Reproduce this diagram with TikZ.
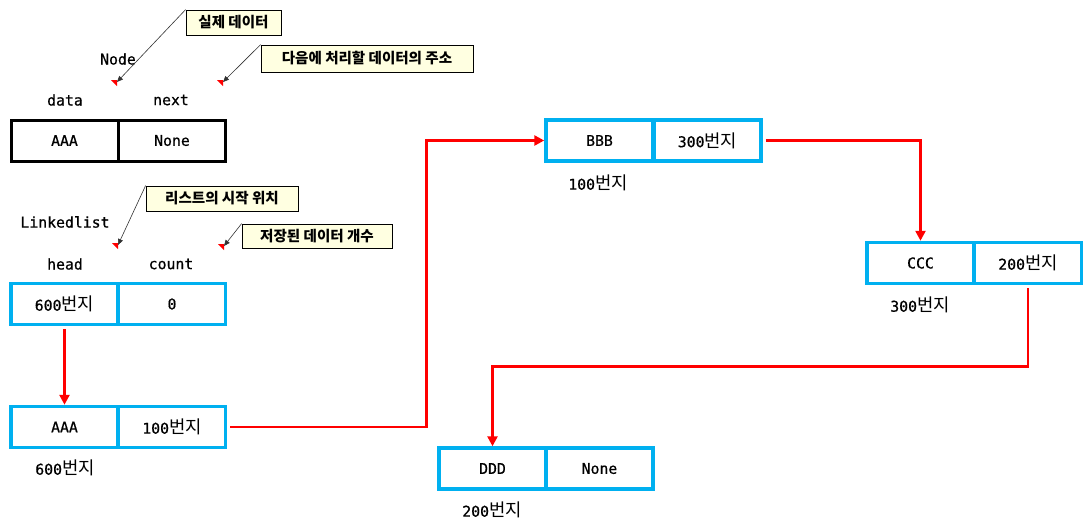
\documentclass[tikz,border=0pt]{standalone}
\usepackage{fontspec}
\setmainfont{DejaVu Sans Mono}[FakeBold=0.6]
\newfontfamily\kr[Scale=1.2]{Noto Sans CJK KR}
\newfontfamily\krn[Scale=1.1]{Noto Sans CJK KR}
\newcommand\kk[1]{{\kr #1}}
\usetikzlibrary{arrows.meta}
\definecolor{cyanb}{HTML}{00B0F0}
\definecolor{notefill}{HTML}{FFFFE1}
\definecolor{redl}{HTML}{FF0000}
\begin{document}
\begin{tikzpicture}[x=1pt,y=-1pt,
  cell/.style={draw=cyanb, line width=3.5pt, rectangle, minimum width=107pt, minimum height=41pt, inner sep=0pt, font=\fontsize{14.8}{17}\selectfont},
  blackcell/.style={cell, draw=black, line width=3pt},
  lbl/.style={inner sep=0pt, font=\fontsize{14.8}{17}\selectfont},
  note/.style={draw=black, line width=0.8pt, fill=notefill, rectangle, inner sep=0pt, font=\krn\bfseries\fontsize{13.2}{15}\selectfont},
  link/.style={draw=redl, line width=2.6pt, -{Triangle[length=10pt,width=10pt]}, shorten <=3pt},
  pointer/.style={draw=black!80, line width=0.6pt, -{Triangle[length=6pt,width=5pt]}},
  marker/.style={fill=redl, draw=none}
]
\useasboundingbox (0,0) rectangle (1092,528);
\fill[white] (0,0) rectangle (1092,528);

% Node structure
\node[blackcell] (n1) at (64.5,140.5) {AAA};
\node[blackcell] (n2) at (172,140.5) {None};
\node[lbl] (ldata) at (65,100) {data};
\node[lbl] (lnext) at (171,100) {next};
\node[lbl] (lnode) at (118,59) {Node};

% Linkedlist structure
\node[cell] (l1) at (64.5,304) {600\kk{번지}};
\node[cell] (l2) at (172,304) {0};
\node[lbl] (lhead) at (65,264) {head};
\node[lbl] (lcount) at (171,264) {count};
\node[lbl] (lll) at (65,222) {Linkedlist};

% Nodes of list
\node[cell] (a1) at (64.5,427) {AAA};
\node[cell] (a2) at (172,427) {100\kk{번지}};
\node[lbl] (aaddr) at (65,468) {600\kk{번지}};

\node[cell] (b1) at (599.5,140.5) {BBB};
\node[cell] (b2) at (707.5,140.5) {300\kk{번지}};
\node[lbl] (baddr) at (598,183) {100\kk{번지}};

\node[cell] (c1) at (920.5,263) {CCC};
\node[cell] (c2) at (1028,263) {200\kk{번지}};
\node[lbl] (caddr) at (920,305) {300\kk{번지}};

\node[cell] (d1) at (492.5,468.5) {DDD};
\node[cell] (d2) at (599.5,468.5) {None};
\node[lbl] (daddr) at (492,510) {200\kk{번지}};

% links
\draw[link] (l1.south) -- (a1.north);
\draw[link] (a2.east) -- ++(199,0) |- (b1.west);
\draw[link] (b2.east) -| (c1.north);
\draw[link] (c2.south) -- ++(0,81) -| (d1.north);

% notes
\node[note, minimum width=95pt, minimum height=25pt] (t1) at (233.5,22.5) {실제 데이터};
\node[note, minimum width=212pt, minimum height=27pt] (t2) at (367,58.5) {다음에 처리할 데이터의 주소};
\node[note, minimum width=152pt, minimum height=25pt] (t3) at (222,198.5) {리스트의 시작 위치};
\node[note, minimum width=150pt, minimum height=24pt] (t4) at (317,236) {저장된 데이터 개수};

\coordinate (p1) at (117,82);
\coordinate (p2) at (223,82);
\coordinate (p3) at (118,245);
\coordinate (p4) at (224,246);

\fill[marker] (111,80) -- (117,80) -- (117,86) -- cycle;
\fill[marker] (217,80) -- (223,80) -- (223,86) -- cycle;
\fill[marker] (112,243) -- (118,243) -- (118,249) -- cycle;
\fill[marker] (218,244) -- (224,244) -- (224,250) -- cycle;

\draw[pointer] (t1.north west) -- (p1);
\draw[pointer] (t2.north west) -- (p2);
\draw[pointer] (t3.north west) -- (p3);
\draw[pointer] (t4.north west) -- (p4);
\end{tikzpicture}
\end{document}
